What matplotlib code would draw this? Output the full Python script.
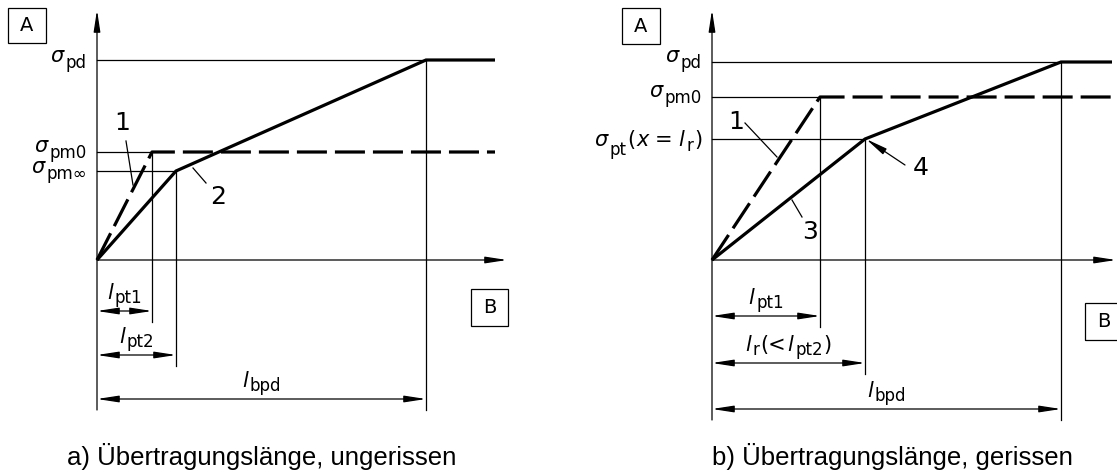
import matplotlib.pyplot as plt
from matplotlib.patches import FancyArrowPatch, Rectangle
from matplotlib.transforms import offset_copy

plt.rcParams['font.family'] = 'DejaVu Sans'

W, H = 1117, 474

# a) ungerissen: lengths l_pt1, l_pt2, l_bpd and stresses sigma_pd, sigma_pm0, sigma_pm_inf
a_len = [55, 79, 329]
a_sig = [200, 108, 89]
a_xend = 398
a_len_sub = ['pt1', 'pt2', 'bpd']
a_sig_sub = ['pd', 'pm0', 'pm∞']

# b) gerissen: lengths l_pt1, l_r, l_bpd and stresses sigma_pd, sigma_pm0, sigma_pt(x=l_r)
b_len = [108, 153, 349]
b_sig = [198, 163, 121]
b_xend = 400

captions = ['a) Übertragungslänge, ungerissen', 'b) Übertragungslänge, gerissen']

THICK = 2.3
THIN = 0.9
HEAD = ',head_length=13,head_width=2'
MAIN, SUB = 15, 12

fig = plt.figure(figsize=(W / 100, H / 100), dpi=100)
renderer = fig.canvas.get_renderer()


def make_ax(ox, oy):
    ax = fig.add_axes([0, 0, 1, 1])
    ax.set_xlim(-ox, W - ox)
    ax.set_ylim(oy - H, oy)
    ax.axis('off')
    ax.patch.set_alpha(0)
    return ax


def rich(ax, x, y, parts, ha):
    # parts: (text, size, baseline shift px, italic, gap after px)
    texts, widths = [], []
    for s, size, dy, it, gap in parts:
        t = ax.text(x, y, s, fontsize=size, style='italic' if it else 'normal',
                    ha='left', va='baseline')
        texts.append(t)
        widths.append(t.get_window_extent(renderer).width + gap)
    total = sum(widths)
    dx = {'left': 0, 'center': -total / 2, 'right': -total}[ha]
    for t, w, p in zip(texts, widths, parts):
        t.set_transform(offset_copy(ax.transData, fig=fig, x=dx, y=p[2], units='dots'))
        dx += w


def sigma(sub):
    return [('σ', MAIN, 0, True, 2), (sub, SUB, -6, False, 0)]


def ell(sub):
    return [('l', MAIN, 0, True, 2), (sub, SUB, -4, False, 0)]


def arrow(ax, p0, p1, style, lw=THIN):
    ax.add_patch(FancyArrowPatch(p0, p1, arrowstyle=style + HEAD, mutation_scale=1,
                                 shrinkA=0, shrinkB=0, lw=lw, color='k'))


def box(ax, x0, y0, w, h, letter):
    ax.add_patch(Rectangle((x0, y0), w, h, fill=False, lw=THIN, ec='k'))
    ax.text(x0 + w / 2, y0 + h / 2, letter, ha='center', va='center', fontsize=14)


def panel(ax, lens, sigs, xend, xtip, rows, len_parts, sig_parts, sig_dy, leaders):
    # kinks: (length, stress) pairs that get thin reference lines
    pairs = [(lens[0], sigs[1]), (lens[1], sigs[2]), (lens[2], sigs[0])]
    bottom = rows[2] - 11
    for (lx, sy), row in zip(pairs, rows):
        ax.plot([0, lx], [sy, sy], color='k', lw=THIN)
        ax.plot([lx, lx], [sy, row - 11], color='k', lw=THIN)

    # axes
    arrow(ax, (0, bottom), (0, 250), '-|>')
    arrow(ax, (0, 0), (xtip, 0), '-|>')

    # curves
    ax.plot([0, lens[0], xend], [0, sigs[1], sigs[1]], color='k', lw=THICK,
            dashes=(9.4, 2.5), dash_capstyle='butt', solid_joinstyle='miter')
    ax.plot([0, lens[1], lens[2], xend], [0, sigs[2], sigs[0], sigs[0]], color='k',
            lw=THICK, solid_joinstyle='miter', solid_capstyle='butt')

    # dimension lines
    for lx, row, parts in zip(lens, rows, len_parts):
        arrow(ax, (0, row), (lx, row), '<|-|>')
        rich(ax, lx / 2, row + 12, parts, 'center')

    # stress labels
    for sy, dy, parts in zip(sigs, sig_dy, sig_parts):
        rich(ax, -10, sy + dy, parts, 'right')

    # leaders
    for num, txy, p0, p1, head in leaders:
        ax.text(txy[0], txy[1], num, ha='center', va='center', fontsize=18)
        if head:
            arrow(ax, p0, p1, '-|>')
        else:
            ax.plot([p0[0], p1[0]], [p0[1], p1[1]], color='k', lw=THIN)


ax_a = make_ax(97, 260)
panel(ax_a, a_len, a_sig, a_xend, 410, [-51, -95, -139],
      [ell(s) for s in a_len_sub],
      [sigma(s) for s in a_sig_sub],
      [-2, 0, -2],
      [('1', (25, 137), (29, 119), (36, 75), False),
       ('2', (121, 63), (96, 92), (109, 77), False)])
box(ax_a, -89, 217, 38, 35, 'A')
box(ax_a, 374, -66, 37, 37, 'B')

ax_b = make_ax(712, 260)
lr_label = [('l', MAIN, 0, True, 2), ('r', SUB, -4, False, 1), ('(<', MAIN, 0, False, 1),
            ('l', MAIN, 0, True, 2), ('pt2', SUB, -4, False, 1), (')', MAIN, 0, False, 0)]
pt_label = [('σ', MAIN, 0, True, 2), ('pt', SUB, -9, False, 1), ('(', MAIN, 0, False, 1),
            ('x', MAIN, 0, True, 6), ('=', MAIN, 0, False, 6), ('l', MAIN, 0, True, 2),
            ('r', SUB, -5, False, 1), (')', MAIN, 0, False, 0)]
panel(ax_b, b_len, b_sig, b_xend, 404, [-56, -103, -149],
      [ell('pt1'), lr_label, ell('bpd')],
      [sigma('pd'), sigma('pm0'), pt_label],
      [0, 0, -7],
      [('1', (24, 138), (33, 137), (65, 103), False),
       ('3', (98, 28), (80, 60), (90, 43), False),
       ('4', (209, 92), (193, 95), (154, 121), True)])
box(ax_b, -90, 216, 38, 36, 'A')
box(ax_b, 373, -80, 37, 37, 'B')

for x0, cap in zip([67, 712], captions):
    fig.text(x0 / W, 1 - 456 / H, cap, ha='left', va='center', fontsize=18.5,
             family=['Liberation Sans', 'DejaVu Sans'])

fig.savefig('out.png', dpi=100)
